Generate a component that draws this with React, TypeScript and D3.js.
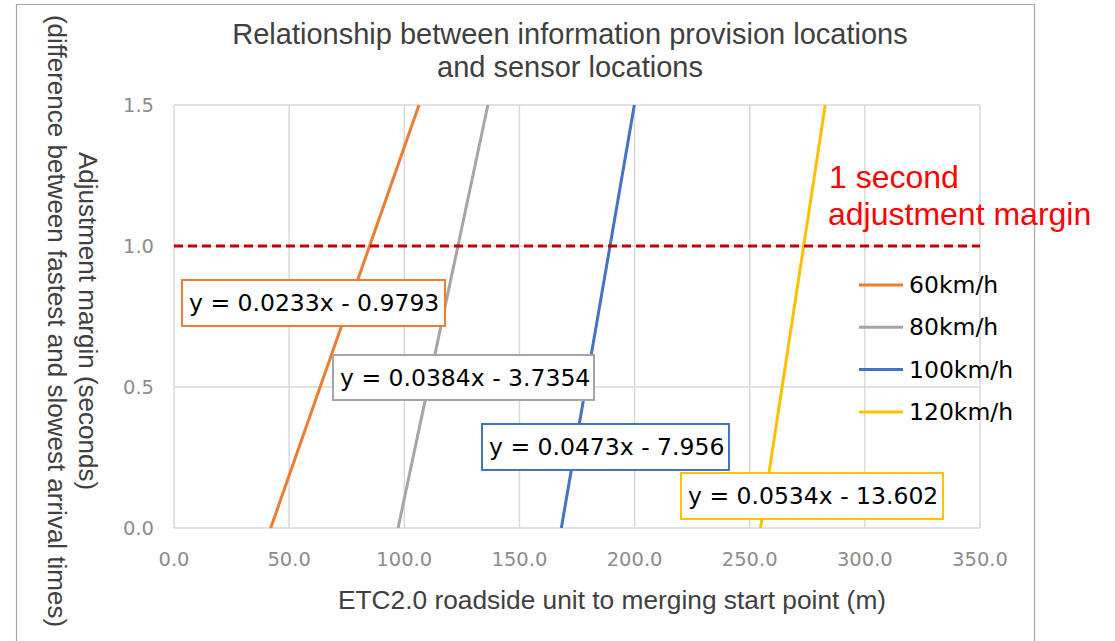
import React from "react";
import * as d3 from "d3";

const seriesNames = ["60km/h", "80km/h", "100km/h", "120km/h"];
const seriesColors = ["#ED7D31", "#A5A5A5", "#4472C4", "#FFC000"];
// each series: points [x (m), y (s)]
const series60 = [[42.0, 0.0], [106.4, 1.5]];
const series80 = [[97.3, 0.0], [136.3, 1.5]];
const series100 = [[168.2, 0.0], [199.9, 1.5]];
const series120 = [[254.7, 0.0], [282.8, 1.5]];
const seriesData = [series60, series80, series100, series120];
const equations = [
  "y = 0.0233x - 0.9793",
  "y = 0.0384x - 3.7354",
  "y = 0.0473x - 7.956",
  "y = 0.0534x - 13.602",
];
const xTicks = [0, 50, 100, 150, 200, 250, 300, 350];
const yTicks = [0, 0.5, 1.0, 1.5];
const thresholdValue = 1.0;

const W = 1115;
const H = 641;
const plot = { left: 174, right: 980, top: 105, bottom: 528 };
// equation box positions (px)
const boxes = [
  { x: 182, y: 280, w: 263, h: 46 },
  { x: 333, y: 355, w: 261, h: 45 },
  { x: 482, y: 424, w: 247, h: 46 },
  { x: 681, y: 473, w: 262, h: 46 },
];

export default function App() {
  const x = d3.scaleLinear().domain([0, 350]).range([plot.left, plot.right]);
  const y = d3.scaleLinear().domain([0, 1.5]).range([plot.bottom, plot.top]);
  const line = d3
    .line<number[]>()
    .x((d) => x(d[0]))
    .y((d) => y(d[1]));
  const sans = "'Liberation Sans', Arial, sans-serif";
  const dj = "'DejaVu Sans', Verdana, sans-serif";
  return (
    <svg
      width={W}
      height={H}
      style={{ position: "absolute", left: 0, top: 0, background: "#fff" }}
    >
      <rect x={0} y={0} width={W} height={H} fill="#fff" />
      {/* outer frame */}
      <path d={`M16.5,${H} V4.5 H1034.5 V${H}`} fill="none" stroke="#A6A6A6" strokeWidth={1.2} />
      {/* title */}
      <text x={570} y={44} textAnchor="middle" fontFamily={sans} fontSize={29} fill="#404040">
        Relationship between information provision locations
      </text>
      <text x={570} y={77} textAnchor="middle" fontFamily={sans} fontSize={29} fill="#404040">
        and sensor locations
      </text>
      {/* gridlines */}
      {xTicks.map((t) => (
        <line key={"gx" + t} x1={x(t)} x2={x(t)} y1={plot.top} y2={plot.bottom} stroke="#D9D9D9" strokeWidth={1.5} />
      ))}
      {yTicks.map((t) => (
        <line key={"gy" + t} x1={plot.left} x2={plot.right} y1={y(t)} y2={y(t)} stroke="#D9D9D9" strokeWidth={1.5} />
      ))}
      {/* tick labels */}
      {xTicks.map((t) => (
        <text key={"tx" + t} x={x(t)} y={566} textAnchor="middle" fontFamily={dj} fontSize={19.5} fill="#8C8C8C">
          {d3.format(".1f")(t)}
        </text>
      ))}
      {yTicks.map((t) => (
        <text key={"ty" + t} x={154} y={y(t) + 7} textAnchor="end" fontFamily={dj} fontSize={19.5} fill="#8C8C8C">
          {d3.format(".1f")(t)}
        </text>
      ))}
      {/* axis titles */}
      <text x={612} y={609} textAnchor="middle" fontFamily={sans} fontSize={26.3} fill="#404040">
        ETC2.0 roadside unit to merging start point (m)
      </text>
      <g transform="translate(79,321) rotate(90)">
        <text x={0} y={0} textAnchor="middle" fontFamily={sans} fontSize={26} fill="#404040">
          Adjustment margin (seconds)
        </text>
        <text x={0} y={31} textAnchor="middle" fontFamily={sans} fontSize={26} fill="#404040">
          (difference between fastest and slowest arrival times)
        </text>
      </g>
      {/* series lines */}
      {seriesData.map((d, i) => (
        <path key={"s" + i} d={line(d) || ""} fill="none" stroke={seriesColors[i]} strokeWidth={3} />
      ))}
      {/* threshold */}
      <line
        x1={plot.left}
        x2={plot.right}
        y1={y(thresholdValue)}
        y2={y(thresholdValue)}
        stroke="#C00000"
        strokeWidth={3}
        strokeDasharray="9,5"
      />
      <text x={829} y={188} fontFamily={sans} fontSize={32} fill="#FF0000">
        1 second
      </text>
      <text x={828} y={225} fontFamily={sans} fontSize={32} fill="#FF0000">
        adjustment margin
      </text>
      {/* equation boxes */}
      {boxes.map((b, i) => (
        <g key={"b" + i}>
          <rect x={b.x} y={b.y} width={b.w} height={b.h} fill="#fff" stroke={seriesColors[i]} strokeWidth={2} />
          <text x={b.x + 7} y={b.y + b.h / 2 + 8} fontFamily={dj} fontSize={23.5} fill="#000">
            {equations[i]}
          </text>
        </g>
      ))}
      {/* legend */}
      {seriesNames.map((n, i) => {
        const ly = 285 + i * 42.3;
        return (
          <g key={"l" + i}>
            <line x1={859} x2={903} y1={ly} y2={ly} stroke={seriesColors[i]} strokeWidth={3} />
            <text x={909} y={ly + 8} fontFamily={dj} fontSize={23.5} fill="#000">
              {n}
            </text>
          </g>
        );
      })}
    </svg>
  );
}
